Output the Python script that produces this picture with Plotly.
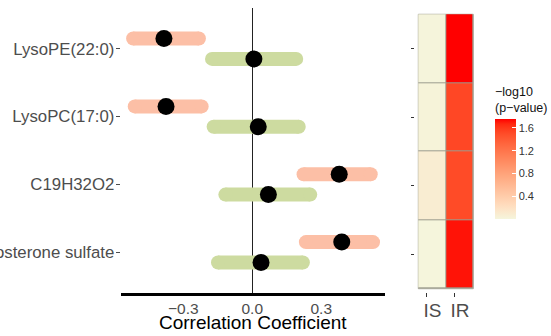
import plotly.graph_objects as go

# ---------------- data ----------------
metabolites = ["LysoPE(22:0)", "LysoPC(17:0)", "C19H32O2", "Androsterone sulfate"]
ir_est = [-0.384, -0.375, 0.378, 0.389]
ir_lo = [-0.518, -0.511, 0.223, 0.233]
ir_hi = [-0.232, -0.220, 0.515, 0.525]
is_est = [0.007, 0.026, 0.070, 0.038]
is_lo = [-0.175, -0.168, -0.117, -0.149]
is_hi = [0.191, 0.202, 0.252, 0.220]
groups = ["IS", "IR"]
neglog_p_is = [0.02, 0.03, 0.09, 0.01]
neglog_p_ir = [1.76, 1.53, 1.51, 1.72]
x_ticks = [-0.3, 0.0, 0.3]
x_ticktext = ["\u22120.3", "0.0", "0.3"]
cbar_ticks = [0.4, 0.8, 1.2, 1.6]

# ---------------- styling helpers ----------------
W, H = 551, 336
FONT = "Liberation Sans, Arial, Helvetica, sans-serif"
IR_COL = "#FCBFA6"
IS_COL = "#CDDBA0"


def _lin(c):
    c = c / 255.0
    return c / 12.92 if c <= 0.04045 else ((c + 0.055) / 1.055) ** 2.4


def _gam(c):
    c = max(0.0, min(1.0, c))
    v = 12.92 * c if c <= 0.0031308 else 1.055 * c ** (1 / 2.4) - 0.055
    return int(round(v * 255))


def rgb_to_lab(rgb):
    r, g, b = (_lin(v) for v in rgb)
    X = (0.4124 * r + 0.3576 * g + 0.1805 * b) / 0.95047
    Y = 0.2126 * r + 0.7152 * g + 0.0722 * b
    Z = (0.0193 * r + 0.1192 * g + 0.9505 * b) / 1.08883
    f = lambda t: t ** (1 / 3) if t > 0.008856 else 7.787 * t + 16 / 116
    fx, fy, fz = f(X), f(Y), f(Z)
    return 116 * fy - 16, 500 * (fx - fy), 200 * (fy - fz)


def lab_to_rgb(lab):
    L, a, b = lab
    fy = (L + 16) / 116
    fx = fy + a / 500
    fz = fy - b / 200
    inv = lambda t: t ** 3 if t ** 3 > 0.008856 else (t - 16 / 116) / 7.787
    X, Y, Z = inv(fx) * 0.95047, inv(fy), inv(fz) * 1.08883
    r = 3.2406 * X - 1.5372 * Y - 0.4986 * Z
    g = -0.9689 * X + 1.8758 * Y + 0.0415 * Z
    bb = 0.0557 * X - 0.2040 * Y + 1.0570 * Z
    return _gam(r), _gam(g), _gam(bb)


def lab_colorscale(c0, c1, n=21):
    l0, l1 = rgb_to_lab(c0), rgb_to_lab(c1)
    out = []
    for i in range(n):
        t = i / (n - 1)
        lab = tuple(l0[k] + (l1[k] - l0[k]) * t for k in range(3))
        r, g, b = lab_to_rgb(lab)
        out.append([t, f"rgb({r},{g},{b})"])
    return out


colorscale = lab_colorscale((245, 245, 220), (255, 0, 0))

n = len(metabolites)
pos = [n - i for i in range(n)]  # top row = n
OFF = 0.15

fig = go.Figure()


def seg_xy(lo, hi, yy):
    xs, ys = [], []
    for a, b, y in zip(lo, hi, yy):
        xs += [a, b, None]
        ys += [y, y, None]
    return xs, ys


ir_y = [p + OFF for p in pos]
is_y = [p - OFF for p in pos]

for lo, hi, yy, col in [(ir_lo, ir_hi, ir_y, IR_COL), (is_lo, is_hi, is_y, IS_COL)]:
    xs, ys = seg_xy(lo, hi, yy)
    fig.add_trace(go.Scatter(
        x=xs, y=ys, mode="lines+markers",
        line=dict(color=col, width=14),
        marker=dict(color=col, size=14, line=dict(width=0)),
        hoverinfo="skip", showlegend=False, xaxis="x", yaxis="y"))

fig.add_trace(go.Scatter(
    x=ir_est + is_est, y=ir_y + is_y, mode="markers",
    marker=dict(color="black", size=17, line=dict(width=0)),
    showlegend=False, xaxis="x", yaxis="y"))

# heatmap
z = [[a, b] for a, b in zip(neglog_p_is, neglog_p_ir)]
rows = list(range(n))
cols = list(range(len(groups)))
fig.add_trace(go.Heatmap(
    z=z, x=cols, y=rows, colorscale=colorscale,
    xgap=1, ygap=1, xaxis="x2", yaxis="y2",
    colorbar=dict(
        thickness=21, len=135, lenmode="pixels",
        x=495 / W, xanchor="left", y=1 - 83.5 / H, yanchor="top",
        xpad=0, ypad=0, outlinewidth=0,
        ticks="inside", ticklen=4, tickcolor="white", tickwidth=1,
        tickvals=cbar_ticks, tickfont=dict(size=11, color="#333333", family=FONT),
        title=dict(text="\u2212log10<br>(p\u2212value)", side="top",
                   font=dict(size=12.5, color="#111111", family=FONT)),
    ),
))

# border behind heatmap tiles
fig.add_shape(type="rect", xref="x2", yref="y2",
              x0=-0.5, x1=len(groups) - 0.5, y0=-0.5, y1=n - 0.5,
              fillcolor="#9C9C8E", line=dict(color="#A8A89A", width=1), layer="below")

# x-axis title of the forest panel
fig.add_annotation(text="Correlation Coefficient", xref="x domain", yref="paper",
                   x=0.5, y=1 - 322.5 / H, xanchor="center", yanchor="middle",
                   showarrow=False, font=dict(size=19, color="black", family=FONT))

fig.update_layout(
    width=W, height=H,
    margin=dict(l=0, r=0, t=0, b=0),
    paper_bgcolor="white", plot_bgcolor="white",
    font=dict(family=FONT),
    showlegend=False,
    xaxis=dict(
        domain=[120.7 / W, 385 / W], range=[-0.572, 0.577],
        tickvals=x_ticks, ticktext=x_ticktext,
        tickfont=dict(size=15.5, color="#4D4D4D"),
        ticks="", ticklen=0, ticklabelstandoff=-1, showgrid=False,
        showline=True, linecolor="black", linewidth=3,
        zeroline=True, zerolinecolor="#222222", zerolinewidth=1,
        anchor="y", automargin=False,
    ),
    yaxis=dict(
        domain=[1 - 293 / H, 1 - 8 / H], range=[0.4, 4.6],
        tickvals=pos, ticktext=metabolites,
        tickfont=dict(size=16.8, color="#4D4D4D"),
        ticks="outside", ticklen=4, tickcolor="#4D4D4D", ticklabelstandoff=-2,
        showgrid=False, zeroline=False, showline=False,
        anchor="x", automargin=False,
    ),
    xaxis2=dict(
        domain=[415 / W, 476.6 / W], range=[-0.62, 1.62],
        tickvals=[c - 0.2 for c in cols], ticktext=groups, ticklabelshift=6,
        ticklabelstandoff=-3,
        tickfont=dict(size=19, color="#4D4D4D"),
        ticks="outside", ticklen=4, tickcolor="#333333",
        showgrid=False, zeroline=False, showline=False,
        anchor="y2", automargin=False,
    ),
    yaxis2=dict(
        domain=[1 - 292 / H, 1 - 11 / H], range=[n - 1 + 0.548, -0.548],
        tickvals=rows, ticktext=[""] * n,
        ticks="outside", ticklen=3, tickcolor="#333333",
        showgrid=False, zeroline=False, showline=False,
        anchor="x2", automargin=False,
    ),
)

fig.write_html("out.html", config={"displayModeBar": False},
               post_script="document.body.style.margin='0';")
